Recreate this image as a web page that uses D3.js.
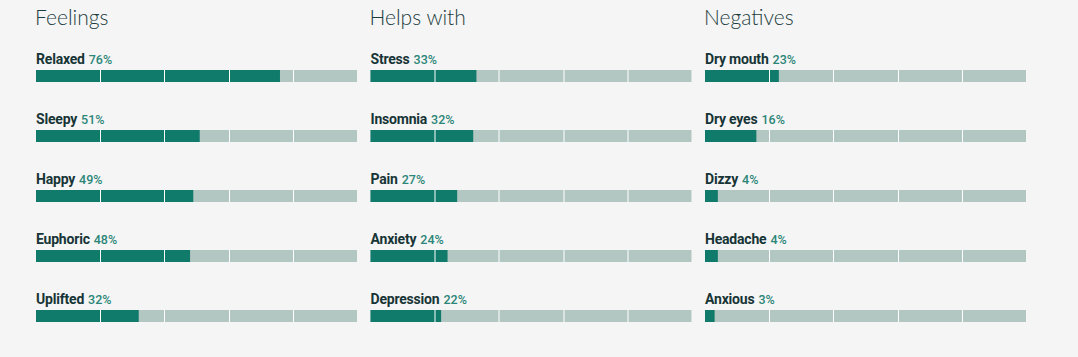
<!DOCTYPE html>
<html>
<head>
<meta charset="utf-8">
<script src="https://cdn.jsdelivr.net/npm/d3@7"></script>
<style>
  html, body { margin: 0; padding: 0; background: #f5f5f5; }
  svg { display: block; }
</style>
</head>
<body>
<svg id="chart" width="1078" height="357"></svg>
<script>
const groupTitles = ["Feelings", "Helps with", "Negatives"];
const feelingsLabels = ["Relaxed", "Sleepy", "Happy", "Euphoric", "Uplifted"];
const feelingsValues = [76, 51, 49, 48, 32];
const helpsLabels = ["Stress", "Insomnia", "Pain", "Anxiety", "Depression"];
const helpsValues = [33, 32, 27, 24, 22];
const negativesLabels = ["Dry mouth", "Dry eyes", "Dizzy", "Headache", "Anxious"];
const negativesValues = [23, 16, 4, 4, 3];
const gridTicks = [20, 40, 60, 80];

const groups = [
  { title: groupTitles[0], labels: feelingsLabels, values: feelingsValues },
  { title: groupTitles[1], labels: helpsLabels, values: helpsValues },
  { title: groupTitles[2], labels: negativesLabels, values: negativesValues }
];

const svg = d3.select("#chart");
const colX = d3.scalePoint().domain(d3.range(3)).range([36, 705]);
const barW = 321;
const x = d3.scaleLinear().domain([0, 100]).range([0, barW]);
const rowY = d3.scalePoint().domain(d3.range(5)).range([70, 310]);
const barH = 12;

groups.forEach((g, gi) => {
  const gg = svg.append("g").attr("transform", `translate(${colX(gi)},0)`);
  gg.append("text")
    .attr("x", -1).attr("y", 25)
    .attr("font-family", "Lato, 'Open Sans', sans-serif")
    .attr("font-weight", 300)
    .attr("font-size", 21)
    .attr("fill", "#1b3d40")
    .text(g.title);

  const rows = gg.selectAll("g.row").data(g.values.map((v, i) => ({ v, label: g.labels[i], i })))
    .join("g").attr("class", "row")
    .attr("transform", d => `translate(0,${rowY(d.i)})`);

  rows.append("rect")
    .attr("x", 0).attr("y", 0).attr("width", x(100)).attr("height", barH)
    .attr("fill", "#b3c7c2");
  rows.append("rect")
    .attr("x", 0).attr("y", 0).attr("width", d => x(d.v)).attr("height", barH)
    .attr("fill", "#107b6b");
  rows.selectAll("line.tick").data(gridTicks).join("line")
    .attr("class", "tick")
    .attr("x1", t => Math.round(x(t)) + 0.5).attr("x2", t => Math.round(x(t)) + 0.5)
    .attr("y1", 0).attr("y2", barH)
    .attr("stroke", "#ffffff").attr("stroke-width", 1);

  const txt = rows.append("text")
    .attr("x", 0).attr("y", -6)
    .attr("font-family", "Roboto, sans-serif");
  txt.append("tspan")
    .attr("font-weight", 700).attr("font-size", 14)
    .attr("letter-spacing", -0.2)
    .attr("fill", "#173436")
    .text(d => d.label);
  txt.append("tspan")
    .attr("dx", 4)
    .attr("font-weight", 500).attr("font-size", 12.5)
    .attr("fill", "#2b8578")
    .text(d => d.v + "%");
});
</script>
</body>
</html>
